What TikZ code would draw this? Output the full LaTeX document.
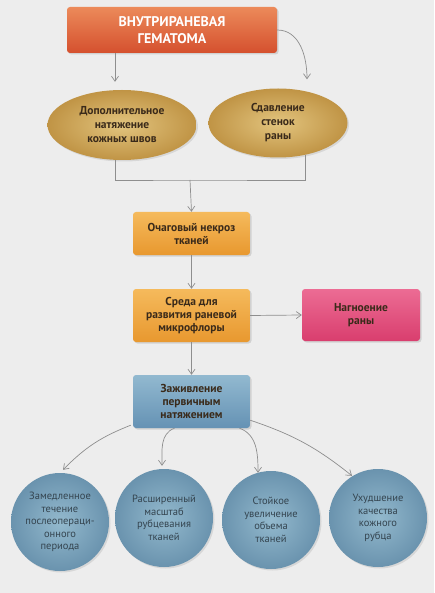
\documentclass[tikz,border=0pt]{standalone}
\usepackage{fontspec}
\setmainfont{PT Sans}
\usetikzlibrary{shapes.geometric,arrows.meta,shadows}
\definecolor{bgcol}{HTML}{EDEDED}
\definecolor{linecol}{HTML}{8E8E8E}
\definecolor{txtdark}{HTML}{3A2A1A}
\definecolor{circtxt}{HTML}{34444F}
\definecolor{topA}{HTML}{EC8A5A}
\definecolor{topB}{HTML}{D5502E}
\definecolor{orA}{HTML}{F5BA5C}
\definecolor{orB}{HTML}{E8982F}
\definecolor{pkA}{HTML}{EC6C94}
\definecolor{pkB}{HTML}{D93E6E}
\definecolor{blA}{HTML}{92B9D0}
\definecolor{blB}{HTML}{6592B4}
\definecolor{goA}{HTML}{E2C47E}
\definecolor{goB}{HTML}{C09445}
\definecolor{ciA}{HTML}{93B9CD}
\definecolor{ciB}{HTML}{6A93AE}
\tikzset{
  conn/.style={draw=linecol, line width=0.7pt},
  arr/.style={conn, -{Straight Barb[length=5pt,width=7pt]}},
  boxbase/.style={rectangle, rounded corners=3pt, align=center, inner sep=2pt,
    font=\bfseries\fontsize{11.5}{13}\selectfont, text=txtdark,
    drop shadow={shadow xshift=1.5pt, shadow yshift=-1.5pt, opacity=0.25}},
  topbox/.style={boxbase, minimum width=210pt, minimum height=46pt, text=white,
    font=\bfseries\fontsize{14}{17}\selectfont,
    top color=topA, bottom color=topB},
  orangebox/.style={boxbase, minimum width=117pt, top color=orA, bottom color=orB},
  pinkbox/.style={boxbase, minimum width=118pt, top color=pkA, bottom color=pkB},
  bluebox/.style={boxbase, minimum width=117pt, top color=blA, bottom color=blB},
  goldell/.style={ellipse, align=center, inner sep=0pt,
    font=\bfseries\fontsize{11.5}{14}\selectfont, text=txtdark,
    inner color=goA, outer color=goB,
    drop shadow={shadow xshift=1.5pt, shadow yshift=-1.5pt, opacity=0.2}},
  bluecirc/.style={circle, minimum size=98pt, align=center, inner sep=0pt,
    font=\fontsize{10.5}{12.5}\selectfont, text=circtxt,
    inner color=ciA, outer color=ciB,
    drop shadow={shadow xshift=1.5pt, shadow yshift=-1.5pt, opacity=0.2}},
}
\begin{document}
\begin{tikzpicture}[x=1pt,y=-1pt]
\useasboundingbox (0,0) rectangle (434,593);
\fill[bgcol] (0,0) rectangle (434,593);

\node[topbox] (top) at (172,30) {ВНУТРИРАНЕВАЯ\\ГЕМАТОМА};
\node[goldell, minimum width=149pt, minimum height=70pt] (el1) at (122,125)
  {Дополнительное\\натяжение\\кожных швов};
\node[goldell, minimum width=139pt, minimum height=69pt] (el2) at (278,123)
  {Сдавление\\стенок\\раны};
\node[orangebox, minimum height=43pt] (b1) at (191.5,233.5) {Очаговый некроз\\тканей};
\node[orangebox, minimum height=53pt] (b2) at (191.5,315.5) {Среда для\\развития раневой\\микрофлоры};
\node[pinkbox, minimum height=52pt] (pk) at (361,315) {Нагноение\\раны};
\node[bluebox, minimum height=53pt] (bl) at (191.5,401.5) {Заживление\\первичным\\натяжением};

\node[bluecirc] (c1) at (60,522) {Замедленное\\течение\\послеопераци-\\онного\\периода};
\node[bluecirc] (c2) at (164,518) {Расширенный\\масштаб\\рубцевания\\тканей};
\node[bluecirc] (c3) at (271,520) {Стойкое\\увеличение\\объема\\тканей};
\node[bluecirc] (c4) at (378,518) {Ухудшение\\качества\\кожного\\рубца};

\coordinate (j) at (190,180);

\draw[arr] ([xshift=-57pt]top.south) -- ([xshift=-7pt,yshift=8pt]el1.north);
\draw[arr] (top.east) to[out=0,in=90] ([xshift=29pt,yshift=9pt]el2.north);
\draw[conn] ([xshift=-7pt]el1.south) |- (j) -| ([xshift=27pt,yshift=2.5pt]el2.south);
\draw[arr] (j) -- (b1.north);
\draw[arr] (b1.south) -- (b2.north);
\draw[arr] (b2.east) -- (pk.west);
\draw[arr] (b2.south) -- (bl.north);

\draw[arr] ([xshift=-2pt,yshift=3pt]bl.south west) to[bend right=12] ([xshift=3pt,yshift=3pt]c1.north);
\draw[arr] ([xshift=-17pt]bl.south) to[out=200,in=90] ([xshift=-2pt,yshift=3pt]c2.north);
\draw[arr] ([xshift=48pt]bl.south) to[out=-20,in=90] ([xshift=-13pt,yshift=-2pt]c3.north);
\draw[arr] ([yshift=8pt]bl.south east) to[bend left=10] ([xshift=-26pt,yshift=-7pt]c4.north);
\end{tikzpicture}
\end{document}
